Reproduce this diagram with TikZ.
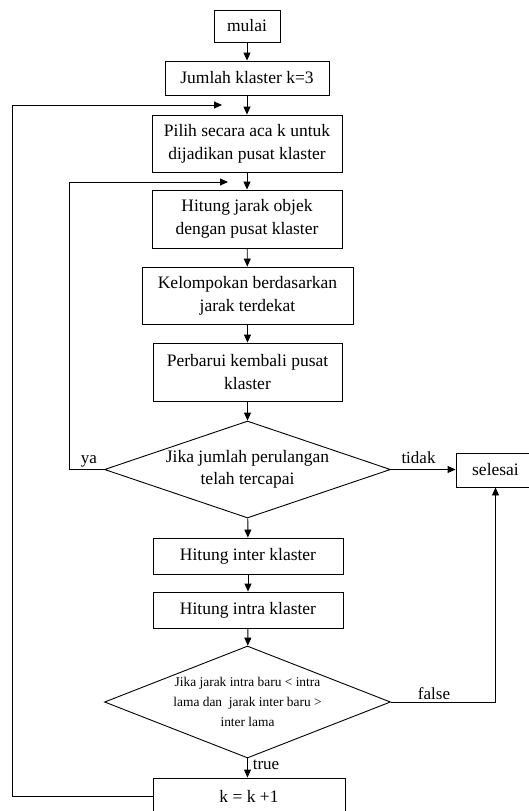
\documentclass[tikz,border=0pt]{standalone}
\usepackage{fontspec}
\setmainfont{Liberation Serif}
\usetikzlibrary{arrows.meta,shapes.geometric}
\begin{document}
\begin{tikzpicture}[x=1pt,y=-1pt,
  box/.style={draw, line width=0.9pt, inner sep=0pt, align=center, font=\fontsize{17.5}{23}\selectfont},
  dec/.style={draw, diamond, line width=0.9pt, inner sep=0pt},
  dtext/.style={align=center, inner sep=0pt},
  conn/.style={line width=0.9pt, -{Triangle[length=8pt,width=7pt]}},
  lab/.style={font=\fontsize{17}{20}\selectfont, inner sep=0pt, anchor=base}]
\useasboundingbox (0,0) rectangle (528,811);
\fill[white] (0,0) rectangle (528,811);

\node[box, minimum width=66pt, minimum height=32pt] (mulai) at (247,26) {mulai};
\node[box, minimum width=164pt, minimum height=34pt] (jumlah) at (247,78) {Jumlah klaster k=3};
\node[box, minimum width=190pt, minimum height=57pt] (pilih) at (247,143.5) {Pilih secara aca k untuk\\dijadikan pusat klaster};
\node[box, minimum width=190pt, minimum height=58pt] (hitung) at (247,219) {Hitung jarak objek\\dengan pusat klaster};
\node[box, minimum width=211pt, minimum height=57pt] (kelompok) at (247.5,295.5) {Kelompokan berdasarkan\\jarak terdekat};
\node[box, minimum width=189pt, minimum height=58pt] (perbarui) at (247.5,372) {Perbarui kembali pusat\\klaster};
\node[dec, minimum width=286pt, minimum height=97pt] (d1) at (247.5,469.5) {};
\node[dtext, font=\fontsize{17.5}{22}\selectfont] (t1) at (247.5,469) {Jika jumlah perulangan\\telah tercapai};
\node[box, minimum width=79pt, minimum height=34pt] (selesai) at (495.5,470) {selesai};
\node[box, minimum width=190pt, minimum height=36pt] (inter) at (248,556) {Hitung inter klaster};
\node[box, minimum width=190pt, minimum height=36pt] (intra) at (248,610) {Hitung intra klaster};
\node[dec, minimum width=286pt, minimum height=112pt] (d2) at (247.5,702) {};
\node[dtext, font=\fontsize{13.4}{20}\selectfont] (t2) at (247.5,702) {Jika jarak intra baru < intra\\lama dan\ \ jarak inter baru >\\inter lama};
\node[box, minimum width=192pt, minimum height=36pt] (kk) at (249,796) {k = k +1};

\node[lab] (ya) at (89,463) {ya};
\node[lab] (tidak) at (418.5,463) {tidak};
\node[lab] (false) at (434,699) {false};
\node[lab] (true) at (266,769) {true};

\coordinate (ya1) at (69,469.5);
\coordinate (ya2) at (69,182);
\coordinate (ya3) at (228,182);
\coordinate (lp1) at (12,796);
\coordinate (lp2) at (12,105);
\coordinate (lp3) at (222,105);

\draw[conn] (mulai) -- (jumlah);
\draw[conn] (jumlah) -- (pilih);
\draw[conn] (pilih) -- (hitung);
\draw[conn] (hitung) -- (kelompok);
\draw[conn] (kelompok) -- (perbarui);
\draw[conn] (perbarui) -- (d1);
\draw[conn] (d1) -- (inter);
\draw[conn] (inter) -- (intra);
\draw[conn] (intra) -- (d2);
\draw[conn] (d2.south) -- (d2.south |- kk.north);
\draw[conn] (d1.east) -- (selesai.west |- d1.east);
\draw[conn] (d1.west) -- (ya1) -- (ya2) -- (ya3);
\draw[conn] (d2.east) -- (d2.east -| selesai.south) -- (selesai.south);
\draw[conn] (kk.west |- lp1) -- (lp1) -- (lp2) -- (lp3);
\end{tikzpicture}
\end{document}
